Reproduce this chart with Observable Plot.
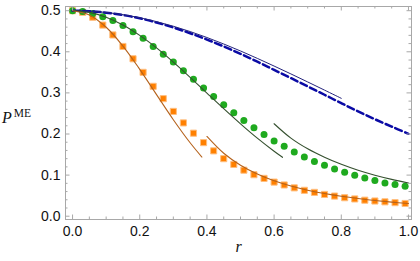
<!DOCTYPE html>
<html>
<head>
<meta charset="utf-8">
<script src="https://cdn.jsdelivr.net/npm/d3@7"></script>
<script src="https://cdn.jsdelivr.net/npm/@observablehq/plot@0.6"></script>
<style>
  html, body { margin: 0; padding: 0; background: #fff; }
  #chart { width: 420px; height: 261px; }
</style>
</head>
<body>
<div id="chart"></div>
<script>
// ---- data ----
const rPoints = [0,0.03,0.06,0.09,0.12,0.15,0.18,0.21,0.24,0.27,0.30,0.33,0.36,0.39,0.42,0.45,0.48,0.51,0.54,0.57,0.60,0.63,0.66,0.69,0.72,0.75,0.78,0.81,0.84,0.87,0.90,0.93,0.96,0.99];
const orangeSquares = [0.500,0.496,0.484,0.465,0.441,0.413,0.383,0.350,0.316,0.286,0.255,0.227,0.202,0.179,0.159,0.140,0.126,0.112,0.101,0.092,0.083,0.076,0.069,0.063,0.058,0.053,0.049,0.045,0.042,0.039,0.037,0.035,0.033,0.031];
const greenCircles = [0.500,0.498,0.493,0.485,0.476,0.464,0.449,0.433,0.413,0.394,0.375,0.354,0.333,0.312,0.291,0.271,0.252,0.233,0.215,0.199,0.183,0.170,0.156,0.144,0.133,0.124,0.115,0.107,0.0995,0.093,0.087,0.081,0.077,0.073];

const rBlueDashed = [0,0.05,0.10,0.15,0.20,0.25,0.30,0.35,0.40,0.45,0.50,0.55,0.60,0.65,0.70,0.75,0.80,0.85,0.90,0.95,1.00];
const blueDashed  = [0.5,0.4989,0.4952,0.4894,0.4814,0.4713,0.4592,0.4452,0.4298,0.4130,0.3950,0.3760,0.3560,0.3360,0.3158,0.2955,0.2750,0.2550,0.2360,0.2180,0.2005];

const rBlueSolid = [0,0.05,0.10,0.15,0.20,0.25,0.30,0.35,0.40,0.45,0.50,0.55,0.60,0.65,0.70,0.75,0.80];
const blueSolid  = [0.5,0.4989,0.4957,0.4903,0.4828,0.4734,0.4622,0.4493,0.4348,0.4190,0.4020,0.3840,0.3653,0.3462,0.3266,0.3068,0.2868];

const rGreenSmall = [0,0.05,0.10,0.15,0.20,0.25,0.30,0.35,0.40,0.45,0.50,0.55,0.60,0.625];
const greenSmall  = [0.5,0.4960,0.4843,0.4653,0.4399,0.4094,0.3749,0.3379,0.2996,0.2616,0.2247,0.1899,0.1580,0.1433];

const rGreenLarge = [0.60,0.65,0.70,0.75,0.80,0.85,0.90,0.95,1.00];
const greenLarge  = [0.2250,0.1900,0.1640,0.1435,0.1262,0.1118,0.0998,0.0897,0.0810];

const rOrangeSmall = [0,0.05,0.10,0.15,0.20,0.25,0.30,0.35,0.385];
const orangeSmall  = [0.5,0.4896,0.4597,0.4139,0.3573,0.2958,0.2348,0.1787,0.1440];

const rOrangeLarge = [0.40,0.45,0.50,0.55,0.60,0.65,0.70,0.75,0.80,0.85,0.90,0.95,1.00];
const orangeLarge  = [0.194,0.1531,0.124,0.1025,0.0861,0.0734,0.0633,0.0551,0.0484,0.0429,0.0383,0.0343,0.031];

const xTicks = [0,0.2,0.4,0.6,0.8,1.0];
const yTicks = [0,0.1,0.2,0.3,0.4,0.5];
const xMinor = [0.05,0.1,0.15,0.25,0.3,0.35,0.45,0.5,0.55,0.65,0.7,0.75,0.85,0.9,0.95];
const yMinor = [0.02,0.04,0.06,0.08,0.12,0.14,0.16,0.18,0.22,0.24,0.26,0.28,0.32,0.34,0.36,0.38,0.42,0.44,0.46,0.48];

// ---- build tables ----
const zip = (xs, ys) => xs.map((x, i) => ({r: x, p: ys[i]}));
const sq = zip(rPoints, orangeSquares);
const ci = zip(rPoints, greenCircles);

const W = 420, H = 261;
const M = {top: 6, right: 9, bottom: 42, left: 65};
const innerW = W - M.left - M.right;
const innerH = H - M.top - M.bottom;
const frameColor = "#a8a8a8";
const majorLen = 4.5, minorLen = 2.5;

const chart = Plot.plot({
  width: W, height: H,
  marginTop: M.top, marginRight: M.right, marginBottom: M.bottom, marginLeft: M.left,
  style: {fontFamily: "'Liberation Sans', Arial, sans-serif", fontSize: "14px", background: "#fff", overflow: "visible"},
  x: {domain: [-0.021, 1.009], axis: null},
  y: {domain: [-0.008, 0.5102], axis: null},
  marks: [
    // points
    Plot.dot(sq, {x: "r", y: "p", symbol: "square", r: 3.45, fill: "#ff8000", stroke: "#ffbf80", strokeWidth: 1}),
    Plot.dot(ci, {x: "r", y: "p", r: 3.5, fill: "#1faa1f"}),
    // curves
    Plot.line(zip(rBlueDashed, blueDashed), {x: "r", y: "p", stroke: "#0a0aa5", strokeWidth: 2.5, strokeDasharray: "7,3.5", curve: "catmull-rom"}),
    Plot.line(zip(rBlueSolid, blueSolid), {x: "r", y: "p", stroke: "#25257d", strokeWidth: 1, curve: "catmull-rom"}),
    Plot.line(zip(rGreenSmall, greenSmall), {x: "r", y: "p", stroke: "#35502f", strokeWidth: 1.1, curve: "catmull-rom"}),
    Plot.line(zip(rGreenLarge, greenLarge), {x: "r", y: "p", stroke: "#35502f", strokeWidth: 1.1, curve: "catmull-rom"}),
    Plot.line(zip(rOrangeSmall, orangeSmall), {x: "r", y: "p", stroke: "#b5621c", strokeWidth: 1.1, curve: "catmull-rom"}),
    Plot.line(zip(rOrangeLarge, orangeLarge), {x: "r", y: "p", stroke: "#b5621c", strokeWidth: 1.1, curve: "catmull-rom"}),
    // frame & inward ticks
    Plot.frame({stroke: frameColor, strokeWidth: 1}),
    Plot.tickX(xTicks, {x: d => d, stroke: frameColor, insetTop: innerH - majorLen}),
    Plot.tickX(xMinor, {x: d => d, stroke: frameColor, insetTop: innerH - minorLen}),
    Plot.tickX(xTicks, {x: d => d, stroke: frameColor, insetBottom: innerH - majorLen}),
    Plot.tickX(xMinor, {x: d => d, stroke: frameColor, insetBottom: innerH - minorLen}),
    Plot.tickY(yTicks, {y: d => d, stroke: frameColor, insetRight: innerW - majorLen}),
    Plot.tickY(yMinor, {y: d => d, stroke: frameColor, insetRight: innerW - minorLen}),
    Plot.tickY(yTicks, {y: d => d, stroke: frameColor, insetLeft: innerW - majorLen}),
    Plot.tickY(yMinor, {y: d => d, stroke: frameColor, insetLeft: innerW - minorLen}),
    // tick labels
    Plot.axisX({ticks: xTicks, tickSize: 0, tickPadding: 7, tickFormat: d => d.toFixed(1), label: null, fontSize: 14, fill: "#111"}),
    Plot.axisY({ticks: yTicks, tickSize: 0, tickPadding: 5, tickFormat: d => d.toFixed(1), label: null, fontSize: 14, fill: "#111"}),
    // axis titles
    Plot.text(["r"], {frameAnchor: "bottom", text: d => d, dy: 32.5, fontFamily: "'Liberation Serif', serif", fontStyle: "italic", fontSize: 16, fill: "#111"}),
    Plot.text(["P"], {frameAnchor: "left", text: d => d, textAnchor: "start", dx: -63.5, dy: 5, fontFamily: "'Liberation Serif', serif", fontStyle: "italic", fontSize: 16, fill: "#111"}),
    Plot.text(["ME"], {frameAnchor: "left", text: d => d, textAnchor: "start", dx: -51.8, dy: 0, fontFamily: "'Liberation Serif', serif", fontSize: 11.5, fill: "#111"})
  ]
});
document.getElementById("chart").appendChild(chart);
</script>
</body>
</html>
